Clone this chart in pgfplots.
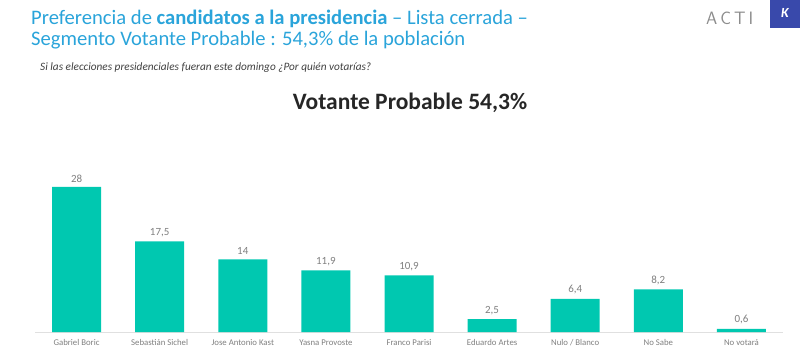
\documentclass[border=0pt]{standalone}
\usepackage{pgfplots}
\pgfplotsset{compat=1.18}
\usepackage{fontspec}
\setmainfont{Carlito}
\definecolor{ttl}{HTML}{2AA4DA}
\definecolor{barc}{HTML}{00C8B0}
\definecolor{txtg}{HTML}{7F7F7F}
\definecolor{kblue}{HTML}{3949AB}
\begin{document}
\begin{tikzpicture}[x=1bp,y=1bp]
\path[use as bounding box] (0,0) rectangle (800,354);
% headings
\node[anchor=base west, inner sep=0, text=ttl, font=\fontsize{20.7}{23}\selectfont] at (31,330) {Preferencia de \textbf{candidatos a la presidencia} -- Lista cerrada --};
\node[anchor=base west, inner sep=0, text=ttl, font=\fontsize{20.7}{23}\selectfont] at (31,309) {Segmento Votante Probable : 54,3\% de la población};
\node[anchor=base west, inner sep=0, text=black!75, font=\fontsize{11.3}{13}\selectfont\itshape] at (40,284) {Si las elecciones presidenciales fueran este domingo ¿Por quién votarías?};
\node[anchor=center, inner sep=0, text=black!85, font=\fontsize{23.6}{26}\selectfont\bfseries] at (410,251) {Votante Probable 54,3\%};
% logo
\node[anchor=base west, inner sep=0, text=black!45, font=\fontsize{18}{19}\sffamily] at (706,330) {A\,C\,T\,I};
\fill[kblue] (770,326) rectangle (800,354);
\node[text=white, font=\fontsize{14}{16}\selectfont\bfseries\itshape] at (785,341) {K};
\begin{axis}[
  at={(35bp,22bp)}, anchor=south west, scale only axis,
  width=748bp, height=182bp,
  xmin=-0.5, xmax=8.5, ymin=0, ymax=35.1,
  ybar, bar width=49bp,
  axis x line*=bottom, hide y axis,
  x axis line style={black!12, line width=0.8pt, -},
  xtick=data, major tick length=0,
  xticklabels={Gabriel Boric, Sebastián Sichel, Jose Antonio Kast, Yasna Provoste, Franco Parisi, Eduardo Artes, Nulo / Blanco, No Sabe, No votará},
  xticklabel style={font=\fontsize{8.8}{10}\selectfont, text=txtg, yshift=-4bp},
  point meta=explicit symbolic,
  nodes near coords,
  every node near coord/.append style={font=\fontsize{11}{12}\selectfont, text=txtg, yshift=1bp},
]
\addplot[fill=barc, draw=none] coordinates {
 (0,28) [28]
 (1,17.5) [17,5]
 (2,14) [14]
 (3,11.9) [11,9]
 (4,10.9) [10,9]
 (5,2.5) [2,5]
 (6,6.4) [6,4]
 (7,8.2) [8,2]
 (8,0.6) [0,6]
};
\end{axis}
\end{tikzpicture}
\end{document}
